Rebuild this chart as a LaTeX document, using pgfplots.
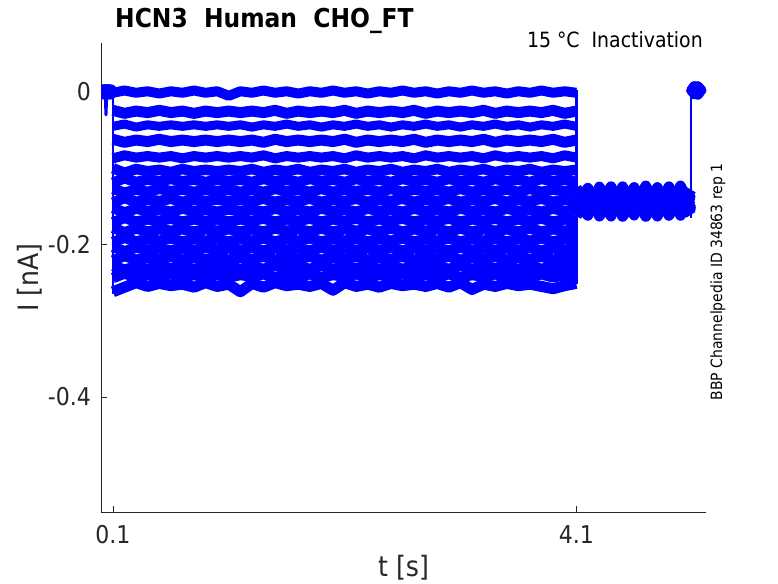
\documentclass[border=0pt]{standalone}
\usepackage{fontspec}
\IfFontExistsTF{DejaVu Sans Condensed}{\setmainfont{DejaVu Sans Condensed}}{\setmainfont{DejaVu Sans}}
\usepackage{pgfplots}
\usepackage{pgfplotstable}
\pgfplotsset{compat=1.18}
\definecolor{axgray}{rgb}{0.15,0.15,0.15}
\definecolor{mblue}{rgb}{0,0,1}
\newcommand\ticksize{\fontsize{24.5}{29}\selectfont}
\newcommand\labsize{\fontsize{28}{33}\selectfont}

\pgfplotstableread{
t a b c d e f g h i j k l m n o p q r
0.000 0.002 -0.002 0.001 0.003 -0.001 0.002 -0.002 0.001 0.002 -0.001 0.002 -0.002 0.003 0.000 -0.001 0.002 0.001 -0.002
0.020 -0.002 0.003 -0.002 0.000 0.003 -0.001 0.002 -0.003 0.001 0.003 -0.002 0.002 -0.001 0.003 0.002 -0.002 0.003 0.001
0.040 0.001 0.002 -0.001 0.003 -0.002 0.001 0.003 -0.002 0.002 -0.001 0.002 0.000 -0.002 0.001 0.003 -0.001 0.002 -0.002
0.060 0.001 -0.002 0.003 -0.001 0.002 -0.003 0.001 0.003 -0.002 0.000 0.002 -0.001 0.003 -0.002 0.001 0.001 -0.002 0.003
0.080 -0.002 0.001 -0.001 0.002 -0.002 0.003 -0.001 0.000 0.003 -0.002 0.001 0.003 -0.002 0.002 -0.003 0.002 0.000 -0.001
0.100 0.001 -0.001 0.002 0.000 0.001 -0.001 0.002 -0.002 0.001 0.001 -0.001 0.002 0.000 -0.001 0.001 -0.002 0.001 0.000
0.100 nan nan nan nan nan nan nan nan nan nan nan nan nan nan nan nan nan nan
0.1 -0.001 -0.024 -0.045 -0.062 -0.087 -0.100 -0.119 -0.127 -0.145 -0.152 -0.171 -0.178 -0.197 -0.203 -0.221 -0.228 -0.244 -0.262
0.2 0.002 -0.028 -0.042 -0.066 -0.083 -0.106 -0.113 -0.132 -0.139 -0.158 -0.165 -0.184 -0.191 -0.209 -0.215 -0.233 -0.238 -0.256
0.3 -0.001 -0.025 -0.046 -0.063 -0.086 -0.101 -0.118 -0.128 -0.144 -0.153 -0.170 -0.179 -0.196 -0.204 -0.220 -0.229 -0.243 -0.250
0.4 0.001 -0.027 -0.043 -0.065 -0.084 -0.104 -0.115 -0.131 -0.141 -0.156 -0.167 -0.183 -0.193 -0.207 -0.217 -0.232 -0.240 -0.255
0.5 -0.002 -0.024 -0.045 -0.062 -0.086 -0.102 -0.117 -0.127 -0.143 -0.154 -0.169 -0.180 -0.195 -0.205 -0.219 -0.228 -0.242 -0.251
0.6 0.001 -0.027 -0.043 -0.065 -0.084 -0.105 -0.114 -0.130 -0.140 -0.157 -0.166 -0.182 -0.192 -0.208 -0.216 -0.231 -0.239 -0.254
0.7 -0.001 -0.025 -0.045 -0.063 -0.087 -0.101 -0.117 -0.128 -0.144 -0.153 -0.170 -0.180 -0.196 -0.205 -0.220 -0.229 -0.243 -0.252
0.8 0.002 -0.028 -0.043 -0.065 -0.084 -0.104 -0.115 -0.131 -0.141 -0.156 -0.167 -0.183 -0.193 -0.208 -0.217 -0.232 -0.240 -0.256
0.9 -0.001 -0.025 -0.045 -0.063 -0.086 -0.102 -0.118 -0.128 -0.143 -0.154 -0.169 -0.180 -0.195 -0.204 -0.219 -0.229 -0.242 -0.250
1.0 0.001 -0.027 -0.043 -0.065 -0.084 -0.104 -0.115 -0.130 -0.141 -0.157 -0.167 -0.182 -0.193 -0.207 -0.217 -0.231 -0.240 -0.255
1.1 -0.005 -0.025 -0.045 -0.063 -0.086 -0.102 -0.117 -0.128 -0.143 -0.154 -0.170 -0.180 -0.196 -0.205 -0.220 -0.229 -0.243 -0.252
1.2 0.001 -0.027 -0.043 -0.065 -0.084 -0.104 -0.115 -0.131 -0.141 -0.156 -0.167 -0.183 -0.193 -0.208 -0.217 -0.232 -0.240 -0.262
1.3 -0.001 -0.025 -0.046 -0.063 -0.086 -0.101 -0.118 -0.128 -0.143 -0.154 -0.169 -0.180 -0.195 -0.204 -0.219 -0.229 -0.242 -0.251
1.4 0.002 -0.027 -0.043 -0.066 -0.083 -0.105 -0.114 -0.131 -0.140 -0.157 -0.166 -0.183 -0.192 -0.208 -0.216 -0.232 -0.239 -0.256
1.5 -0.001 -0.024 -0.045 -0.062 -0.087 -0.102 -0.117 -0.127 -0.144 -0.153 -0.170 -0.179 -0.196 -0.205 -0.220 -0.228 -0.243 -0.250
1.6 0.001 -0.028 -0.042 -0.065 -0.084 -0.104 -0.115 -0.130 -0.141 -0.156 -0.167 -0.182 -0.193 -0.207 -0.217 -0.231 -0.240 -0.254
1.7 -0.002 -0.025 -0.045 -0.063 -0.086 -0.101 -0.118 -0.128 -0.143 -0.154 -0.169 -0.180 -0.195 -0.205 -0.219 -0.229 -0.242 -0.252
1.8 0.001 -0.027 -0.043 -0.065 -0.084 -0.105 -0.114 -0.131 -0.140 -0.157 -0.166 -0.183 -0.192 -0.208 -0.216 -0.232 -0.239 -0.255
1.9 -0.001 -0.025 -0.046 -0.063 -0.086 -0.102 -0.117 -0.127 -0.144 -0.153 -0.170 -0.179 -0.196 -0.204 -0.220 -0.228 -0.243 -0.251
2.0 0.002 -0.027 -0.043 -0.065 -0.084 -0.104 -0.115 -0.131 -0.141 -0.156 -0.167 -0.183 -0.193 -0.208 -0.217 -0.232 -0.240 -0.260
2.1 -0.001 -0.024 -0.045 -0.062 -0.087 -0.101 -0.118 -0.128 -0.143 -0.154 -0.169 -0.180 -0.195 -0.205 -0.219 -0.229 -0.242 -0.250
2.2 0.001 -0.028 -0.042 -0.066 -0.083 -0.105 -0.114 -0.130 -0.140 -0.157 -0.166 -0.182 -0.192 -0.207 -0.216 -0.231 -0.239 -0.255
2.3 -0.002 -0.025 -0.045 -0.063 -0.086 -0.102 -0.117 -0.128 -0.144 -0.153 -0.170 -0.180 -0.196 -0.205 -0.220 -0.229 -0.243 -0.252
2.4 0.001 -0.027 -0.043 -0.065 -0.084 -0.104 -0.115 -0.131 -0.141 -0.156 -0.167 -0.183 -0.193 -0.208 -0.217 -0.232 -0.240 -0.256
2.5 -0.001 -0.025 -0.046 -0.063 -0.086 -0.101 -0.118 -0.127 -0.143 -0.154 -0.169 -0.179 -0.195 -0.204 -0.219 -0.228 -0.242 -0.251
2.6 0.002 -0.027 -0.043 -0.065 -0.084 -0.105 -0.114 -0.131 -0.140 -0.157 -0.166 -0.183 -0.192 -0.208 -0.216 -0.232 -0.239 -0.254
2.7 -0.001 -0.024 -0.045 -0.062 -0.087 -0.102 -0.117 -0.128 -0.144 -0.153 -0.170 -0.180 -0.196 -0.205 -0.220 -0.229 -0.243 -0.252
2.8 0.001 -0.028 -0.042 -0.066 -0.083 -0.104 -0.115 -0.130 -0.141 -0.156 -0.167 -0.182 -0.193 -0.207 -0.217 -0.231 -0.240 -0.255
2.9 -0.002 -0.025 -0.045 -0.063 -0.086 -0.101 -0.118 -0.128 -0.143 -0.154 -0.169 -0.180 -0.195 -0.205 -0.219 -0.229 -0.242 -0.251
3.0 0.001 -0.027 -0.043 -0.065 -0.084 -0.105 -0.114 -0.131 -0.140 -0.157 -0.166 -0.183 -0.192 -0.208 -0.216 -0.232 -0.239 -0.256
3.1 -0.001 -0.025 -0.046 -0.063 -0.086 -0.102 -0.117 -0.127 -0.144 -0.153 -0.170 -0.179 -0.196 -0.204 -0.220 -0.228 -0.243 -0.250
3.2 0.002 -0.027 -0.043 -0.065 -0.084 -0.104 -0.115 -0.131 -0.141 -0.156 -0.167 -0.183 -0.193 -0.208 -0.217 -0.232 -0.240 -0.259
3.3 -0.001 -0.024 -0.045 -0.062 -0.087 -0.101 -0.118 -0.128 -0.143 -0.154 -0.169 -0.180 -0.195 -0.205 -0.219 -0.229 -0.242 -0.252
3.4 0.001 -0.028 -0.042 -0.066 -0.083 -0.105 -0.114 -0.130 -0.140 -0.157 -0.166 -0.182 -0.192 -0.207 -0.216 -0.231 -0.239 -0.255
3.5 -0.002 -0.025 -0.045 -0.063 -0.086 -0.102 -0.117 -0.128 -0.144 -0.153 -0.170 -0.180 -0.196 -0.205 -0.220 -0.229 -0.243 -0.251
3.6 0.001 -0.027 -0.043 -0.065 -0.084 -0.104 -0.115 -0.131 -0.141 -0.156 -0.167 -0.183 -0.193 -0.208 -0.217 -0.232 -0.240 -0.254
3.7 -0.001 -0.025 -0.046 -0.063 -0.086 -0.101 -0.118 -0.127 -0.143 -0.154 -0.169 -0.179 -0.195 -0.204 -0.219 -0.228 -0.242 -0.252
3.8 0.002 -0.027 -0.043 -0.065 -0.084 -0.105 -0.114 -0.131 -0.140 -0.157 -0.166 -0.183 -0.192 -0.208 -0.216 -0.232 -0.239 -0.255
3.9 -0.001 -0.024 -0.045 -0.062 -0.087 -0.102 -0.117 -0.128 -0.144 -0.153 -0.170 -0.180 -0.196 -0.205 -0.220 -0.229 -0.243 -0.258
4.0 0.001 -0.028 -0.042 -0.066 -0.083 -0.104 -0.115 -0.130 -0.141 -0.156 -0.167 -0.182 -0.193 -0.207 -0.217 -0.231 -0.240 -0.254
4.1 -0.001 -0.025 -0.045 -0.063 -0.086 -0.102 -0.118 -0.128 -0.143 -0.154 -0.169 -0.180 -0.195 -0.205 -0.219 -0.229 -0.242 -0.251
4.1 nan nan nan nan nan nan nan nan nan nan nan nan nan nan nan nan nan nan
4.1 -0.130 -0.155 -0.138 -0.160 -0.127 -0.149 -0.136 -0.162 -0.129 -0.152 -0.142 -0.158 -0.133 -0.146 -0.125 -0.154 -0.139 -0.163
4.2 -0.150 -0.130 -0.158 -0.135 -0.153 -0.126 -0.160 -0.141 -0.155 -0.128 -0.162 -0.136 -0.149 -0.131 -0.157 -0.134 -0.161 -0.127
4.3 -0.128 -0.160 -0.133 -0.155 -0.124 -0.158 -0.131 -0.150 -0.138 -0.162 -0.127 -0.156 -0.134 -0.163 -0.141 -0.149 -0.125 -0.153
4.4 -0.156 -0.135 -0.162 -0.129 -0.157 -0.139 -0.152 -0.126 -0.160 -0.136 -0.149 -0.130 -0.163 -0.137 -0.151 -0.124 -0.156 -0.141
4.5 -0.134 -0.153 -0.127 -0.163 -0.131 -0.150 -0.124 -0.158 -0.135 -0.146 -0.129 -0.161 -0.126 -0.155 -0.137 -0.159 -0.132 -0.151
4.6 -0.159 -0.131 -0.151 -0.139 -0.162 -0.128 -0.156 -0.133 -0.149 -0.125 -0.160 -0.140 -0.154 -0.127 -0.161 -0.138 -0.148 -0.130
4.7 -0.129 -0.162 -0.137 -0.152 -0.126 -0.159 -0.135 -0.148 -0.123 -0.157 -0.131 -0.151 -0.140 -0.160 -0.128 -0.153 -0.136 -0.163
4.8 -0.153 -0.133 -0.160 -0.127 -0.150 -0.140 -0.163 -0.130 -0.157 -0.138 -0.152 -0.125 -0.159 -0.134 -0.149 -0.129 -0.161 -0.137
4.9 -0.136 -0.158 -0.129 -0.161 -0.138 -0.147 -0.126 -0.160 -0.132 -0.153 -0.124 -0.156 -0.130 -0.151 -0.141 -0.162 -0.127 -0.150
5.0 -0.157 -0.128 -0.154 -0.134 -0.160 -0.126 -0.150 -0.139 -0.162 -0.130 -0.156 -0.136 -0.151 -0.123 -0.158 -0.133 -0.153 -0.131
5.09 -0.132 -0.155 -0.139 -0.158 -0.129 -0.152 -0.140 -0.161 -0.134 -0.149 -0.137 -0.159 -0.128 -0.153 -0.144 -0.157 -0.135 -0.156
5.09 nan nan nan nan nan nan nan nan nan nan nan nan nan nan nan nan nan nan
5.09 0.004 0.001 0.006 -0.002 0.003 0.007 -0.001 0.005 0.000 0.006 -0.003 0.004 0.007 -0.001 0.005 0.002 -0.002 0.006
5.12 -0.002 0.006 0.000 0.007 -0.003 0.003 0.006 -0.001 0.007 0.001 0.005 -0.002 0.002 0.006 -0.001 0.005 0.004 -0.001
5.15 0.006 -0.001 0.004 0.001 0.007 -0.003 0.002 0.007 -0.002 0.005 0.002 0.006 -0.003 0.003 0.007 -0.001 0.005 0.003
5.185 0.002 0.005 -0.002 0.006 0.001 0.006 0.003 -0.001 0.004 -0.003 0.007 0.001 0.005 0.002 -0.002 0.007 0.000 0.004
}\data

\begin{document}
\begin{tikzpicture}
\path[use as bounding box] (0pt,0pt) rectangle (778pt,583pt);
\begin{axis}[
  at={(101pt,71pt)}, anchor=south west,
  scale only axis, width=605pt, height=469pt,
  xmin=-0.003, xmax=5.22, ymin=-0.5508, ymax=0.0643,
  axis lines*=left,
  axis line style={draw=axgray, line width=0.8pt},
  tick style={draw=axgray, line width=0.8pt},
  tick align=inside, major tick length=6pt,
  xtick={0.1,4.1}, xticklabels={0.1,4.1},
  ytick={-0.4,-0.2,0}, yticklabels={-0.4,-0.2,{0\hspace{22pt}}},
  ticklabel style={font=\ticksize, text=axgray},
  xticklabel style={anchor=north, inner sep=0pt, yshift=-13pt},
  yticklabel style={anchor=east, inner sep=0pt, xshift=-10pt},
  xlabel={t [s]}, ylabel={I [nA]},
  xlabel style={font=\labsize, text=axgray, at={(axis description cs:0.5,-0.0917)}, anchor=north, inner sep=0pt},
  ylabel style={font=\labsize, text=axgray, at={(axis description cs:-0.1388,0.5)}, rotate=0, anchor=north, inner sep=0pt},
  cycle list={{mblue}},
  unbounded coords=jump,
  tr/.style={draw=mblue, line width=#1, line join=round, line cap=butt, mark=none},
]
\addplot[tr=10pt] table[x=t, y=a] {\data};
\addplot[tr=11pt] table[x=t, y=b] {\data};
\addplot[tr=9pt] table[x=t, y=c] {\data};
\addplot[tr=11pt] table[x=t, y=d] {\data};
\addplot[tr=10pt] table[x=t, y=e] {\data};
\addplot[tr=10.5pt] table[x=t, y=f] {\data};
\addplot[tr=10.5pt] table[x=t, y=g] {\data};
\addplot[tr=10.5pt] table[x=t, y=h] {\data};
\addplot[tr=10.5pt] table[x=t, y=i] {\data};
\addplot[tr=10.5pt] table[x=t, y=j] {\data};
\addplot[tr=10.5pt] table[x=t, y=k] {\data};
\addplot[tr=10.5pt] table[x=t, y=l] {\data};
\addplot[tr=10.5pt] table[x=t, y=m] {\data};
\addplot[tr=10.5pt] table[x=t, y=n] {\data};
\addplot[tr=10.5pt] table[x=t, y=o] {\data};
\addplot[tr=10.5pt] table[x=t, y=p] {\data};
\addplot[tr=10.5pt] table[x=t, y=q] {\data};
\addplot[tr=11pt] table[x=t, y=r] {\data};
% thin vertical steps and the early spike
\addplot[tr=2.5pt] coordinates {(0.1,0.003) (0.1,-0.265)};
\addplot[tr=2.5pt] coordinates {(4.1,0.003) (4.1,-0.252)};
\addplot[tr=2.5pt] coordinates {(5.09,-0.165) (5.09,0.008)};
\addplot[tr=3pt] coordinates {(0.033,0.000) (0.040,-0.030) (0.047,0.000)};
\end{axis}
\node[anchor=base west, inner sep=0pt, font=\fontsize{26}{31}\selectfont\bfseries] at (115pt,555pt) {HCN3\ \ Human\ \ CHO\_FT};
\node[anchor=base east, inner sep=0pt, font=\fontsize{21}{25}\selectfont] at (703pt,535pt) {15 °C\ \ Inactivation};
\node[anchor=base, rotate=90, inner sep=0pt, font=\fontsize{15.5}{18}\selectfont] at (722pt,301pt) {BBP Channelpedia ID 34863 rep 1};
\end{tikzpicture}
\end{document}
